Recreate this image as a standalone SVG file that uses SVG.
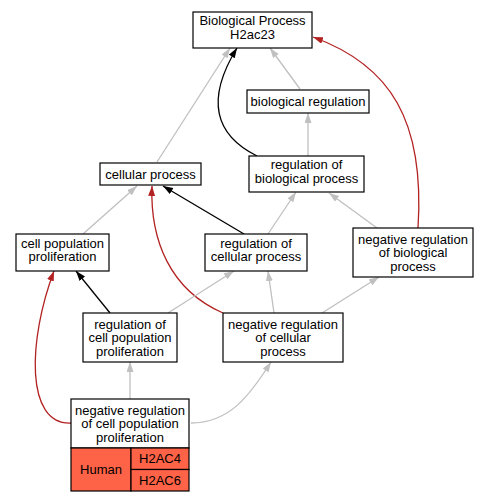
<svg xmlns="http://www.w3.org/2000/svg" width="487" height="501" viewBox="0 0 487 501">
<defs>
<style>
text{font-family:"Liberation Sans",Arial,sans-serif;font-size:13px;fill:#000;text-anchor:middle}
.box{fill:#fff;stroke:#000;stroke-width:1.2}
.cell{fill:#ff6347;stroke:#000;stroke-width:1.2}
.e{fill:none;stroke-width:1.3}
.g{stroke:#c0c0c0;marker-end:url(#ag)}
.k{stroke:#000;marker-end:url(#ak)}
.r{stroke:#b22222;marker-end:url(#ar)}
</style>
<marker id="ag" markerUnits="userSpaceOnUse" markerWidth="11" markerHeight="8" refX="10" refY="3.5" orient="auto"><path d="M0,0 L10,3.5 L0,7 z" fill="#c0c0c0"/></marker>
<marker id="ak" markerUnits="userSpaceOnUse" markerWidth="11" markerHeight="8" refX="10" refY="3.5" orient="auto"><path d="M0,0 L10,3.5 L0,7 z" fill="#000"/></marker>
<marker id="ar" markerUnits="userSpaceOnUse" markerWidth="11" markerHeight="8" refX="10" refY="3.5" orient="auto"><path d="M0,0 L10,3.5 L0,7 z" fill="#b22222"/></marker>
</defs>
<rect width="487" height="501" fill="#fff"/>
<g id="connectors">
<path class="e g" d="M157,162 L230,48"/>
<path class="e g" d="M300,89 L270,48"/>
<path class="e k" d="M257,156 C215,135 205,100 237,48"/>
<path class="e r" d="M418,228 C425,120 390,65 313,37"/>
<path class="e g" d="M308,156 L308,113"/>
<path class="e k" d="M244,234 L163,186"/>
<path class="e r" d="M223,313 C170,290 150,240 152,186"/>
<path class="e g" d="M83,234 L137,186"/>
<path class="e g" d="M268,234 L296,192"/>
<path class="e g" d="M377,228 L329,193"/>
<path class="e k" d="M110,313 L76,271"/>
<path class="e r" d="M71,423 C25,425 28,340 54,271"/>
<path class="e g" d="M168,313 L234,271"/>
<path class="e g" d="M274,313 L268,271"/>
<path class="e g" d="M322,313 L379,277"/>
<path class="e g" d="M130,399 L130,362"/>
<path class="e g" d="M191,423 C230,423 250,395 271,362"/>
</g>
<g id="n_bp">
<rect class="box" x="193" y="12" width="119" height="36"/>
<text x="252.5" y="25">Biological Process</text>
<text x="252.5" y="38.5">H2ac23</text>
</g>
<g id="n_breg">
<rect class="box" x="247" y="90" width="122" height="23"/>
<text x="308" y="106">biological regulation</text>
</g>
<g id="n_cp">
<rect class="box" x="100" y="163" width="101" height="22"/>
<text x="150.5" y="178.5">cellular process</text>
</g>
<g id="n_rbp">
<rect class="box" x="249" y="156" width="115" height="36"/>
<text x="306.5" y="169">regulation of</text>
<text x="306.5" y="182.5">biological process</text>
</g>
<g id="n_cpp">
<rect class="box" x="16" y="234" width="93" height="37"/>
<text x="62.5" y="247.5">cell population</text>
<text x="62.5" y="261">proliferation</text>
</g>
<g id="n_rcp">
<rect class="box" x="205" y="234" width="102" height="37"/>
<text x="256" y="247.5">regulation of</text>
<text x="256" y="261">cellular process</text>
</g>
<g id="n_nrbp">
<rect class="box" x="353" y="228" width="120" height="49"/>
<text x="413" y="243.5">negative regulation</text>
<text x="413" y="257">of biological</text>
<text x="413" y="270.5">process</text>
</g>
<g id="n_rcpp">
<rect class="box" x="83" y="313" width="94" height="49"/>
<text x="130" y="328.5">regulation of</text>
<text x="130" y="342">cell population</text>
<text x="130" y="355.5">proliferation</text>
</g>
<g id="n_nrcp">
<rect class="box" x="223" y="313" width="120" height="49"/>
<text x="283" y="328.5">negative regulation</text>
<text x="283" y="342">of cellular</text>
<text x="283" y="355.5">process</text>
</g>
<g id="n_nrcpp">
<rect class="box" x="71" y="399" width="118" height="49"/>
<text x="130" y="414.5">negative regulation</text>
<text x="130" y="428">of cell population</text>
<text x="130" y="441.5">proliferation</text>
<rect class="cell" x="71" y="448" width="60" height="43"/>
<rect class="cell" x="131" y="448" width="58" height="21.5"/>
<rect class="cell" x="131" y="469.5" width="58" height="21.5"/>
<text x="101" y="474">Human</text>
<text x="160" y="463">H2AC4</text>
<text x="160" y="484.5">H2AC6</text>
</g>
</svg>
